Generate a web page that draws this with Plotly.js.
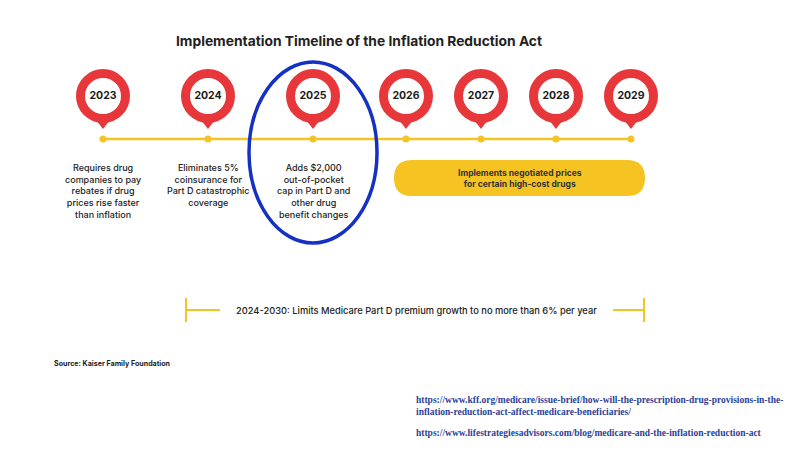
<!DOCTYPE html>
<html><head><meta charset="utf-8">
<script src="https://cdn.plot.ly/plotly-3.0.1.min.js"></script>
<style>html,body{margin:0;padding:0;background:#fff}#chart{width:800px;height:460px}</style>
</head><body><div id="chart"></div>
<script>
// ---- data ----
const years = ["2023","2024","2025","2026","2027","2028","2029"];
const milestoneNotes = [
  "Requires drug<br>companies to pay<br>rebates if drug<br>prices rise faster<br>than inflation",
  "Eliminates 5%<br>coinsurance for<br>Part D catastrophic<br>coverage",
  "Adds $2,000<br>out-of-pocket<br>cap in Part D and<br>other drug<br>benefit changes"
];
const negotiatedNote = "Implements negotiated prices<br>for certain high-cost drugs";
const negotiatedSpan = ["2026","2029"];
const premiumNote = "2024-2030: Limits Medicare Part D premium growth to no more than 6% per year";
const chartTitle = "Implementation Timeline of the Inflation Reduction Act";
const sourceNote = "Source: Kaiser Family Foundation";
const links = [
  "https://www.kff.org/medicare/issue-brief/how-will-the-prescription-drug-provisions-in-the-<br>inflation-reduction-act-affect-medicare-beneficiaries/",
  "https://www.lifestrategiesadvisors.com/blog/medicare-and-the-inflation-reduction-act"
];

// ---- layout positions (pixel-like canvas coordinates) ----
const xPos = [103, 208, 313, 406, 481, 556, 631];
const lineY = 139, pinY = 96, tipY = 121;
const RED = "#e8373a", YEL = "#f5c423", BLUE = "#1530c4";
const SANS = "Inter, Roboto, sans-serif";

const traces = [
  {x: xPos, y: xPos.map(()=>lineY), mode: "lines+markers", type: "scatter",
   line: {color: YEL, width: 2.5}, marker: {color: YEL, size: 7}, hoverinfo: "skip"},
  {x: xPos, y: xPos.map(()=>tipY), mode: "markers", type: "scatter",
   marker: {symbol: "triangle-down", color: RED, size: 16}, hoverinfo: "skip"},
  {x: xPos, y: xPos.map(()=>pinY), mode: "markers+text", type: "scatter",
   marker: {symbol: "circle", color: "#fff", size: 45, line: {color: RED, width: 9}},
   text: years.map(y=>"<b>"+y+"</b>"), textposition: "middle center",
   textfont: {family: SANS, size: 10.5, color: "#1a1a1a"}, hoverinfo: "skip"}
];

const annotations = [
  {x: 359, y: 41, text: "<b>"+chartTitle+"</b>", showarrow: false,
   font: {family: SANS, size: 13.8, color: "#222"}},
  {x: 416, y: 310, text: premiumNote, showarrow: false,
   font: {family: SANS, size: 9.3, color: "#222", weight: 500}},
  {x: 52, y: 363, text: "<b>"+sourceNote+"</b>", showarrow: false, xanchor: "left",
   font: {family: SANS, size: 7.1, color: "#222"}},
  {x: 414, y: 406, text: "<b>"+links[0]+"</b>", showarrow: false, xanchor: "left", align: "left",
   font: {family: "Liberation Serif, Times New Roman, serif", size: 9.5, color: "#2b3f98"}},
  {x: 414, y: 433, text: "<b>"+links[1]+"</b>", showarrow: false, xanchor: "left", align: "left",
   font: {family: "Liberation Serif, Times New Roman, serif", size: 9.5, color: "#2b3f98"}}
];
milestoneNotes.forEach((t,i)=>{
  annotations.push({x: xPos[i], y: 160, yanchor: "top", text: t, showarrow: false,
    font: {family: SANS, size: 9, color: "#222", weight: 500}});
});
const i0 = years.indexOf(negotiatedSpan[0]), i1 = years.indexOf(negotiatedSpan[1]);
const boxL = xPos[i0]-12, boxR = xPos[i1]+14;
annotations.push({x: (boxL+boxR)/2, y: 178, text: "<b>"+negotiatedNote+"</b>", showarrow: false,
  font: {family: SANS, size: 8.5, color: "#333"}});

const shapes = [
  {type: "path", xref: "x", yref: "y", fillcolor: YEL, line: {width: 0},
   path: `M ${boxL+18} 160 L ${boxR-18} 160 Q ${boxR} 160 ${boxR} 178 Q ${boxR} 196 ${boxR-18} 196 L ${boxL+18} 196 Q ${boxL} 196 ${boxL} 178 Q ${boxL} 160 ${boxL+18} 160 Z`},
  {type: "circle", xref: "x", yref: "y", x0: 249, x1: 377, y0: 62, y1: 243,
   line: {color: BLUE, width: 3.5}},
  {type: "line", x0: 186, x1: 186, y0: 298, y1: 322, line: {color: YEL, width: 2}},
  {type: "line", x0: 186, x1: 220, y0: 310, y1: 310, line: {color: YEL, width: 2}},
  {type: "line", x0: 613, x1: 644, y0: 310, y1: 310, line: {color: YEL, width: 2}},
  {type: "line", x0: 644, x1: 644, y0: 298, y1: 322, line: {color: YEL, width: 2}}
];

const layout = {
  width: 800, height: 460, margin: {l:0, r:0, t:0, b:0},
  paper_bgcolor: "#fff", plot_bgcolor: "#fff", showlegend: false,
  xaxis: {range: [0, 800], visible: false, fixedrange: true},
  yaxis: {range: [460, 0], visible: false, fixedrange: true},
  annotations, shapes
};
Plotly.newPlot("chart", traces, layout, {staticPlot: true, displayModeBar: false});
</script></body></html>
